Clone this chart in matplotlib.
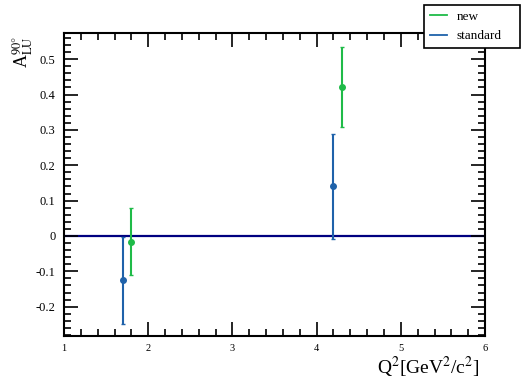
import matplotlib
matplotlib.use("Agg")
import matplotlib.pyplot as plt
from matplotlib.ticker import MultipleLocator, FuncFormatter
from matplotlib.lines import Line2D

# data
q2_standard = [1.70, 4.20]
alu_standard = [-0.125, 0.140]
err_standard = [0.123, 0.148]

q2_new = [1.79, 4.30]
alu_new = [-0.016, 0.422]
err_new = [0.095, 0.113]

labels = ["new", "standard"]

plt.rcParams['font.family'] = ['Liberation Serif', 'DejaVu Serif']
plt.rcParams['mathtext.fontset'] = 'stix'

fig = plt.figure(figsize=(5.21, 3.81), dpi=100)
ax = fig.add_axes([0.1228, 0.1181, 0.8082, 0.7953])

ax.axhline(0, color='#000080', lw=1.6, zorder=1)

green = '#1fbb48'
blue = '#1f62aa'
ax.errorbar(q2_new, alu_new, yerr=err_new, fmt='o', color=green, ms=4,
            elinewidth=1.5, capsize=1.5, capthick=1, zorder=3)
ax.errorbar(q2_standard, alu_standard, yerr=err_standard, fmt='o', color=blue, ms=4,
            elinewidth=1.5, capsize=1.5, capthick=1, zorder=3)

ax.set_xlim(1, 6)
ax.set_ylim(-0.283, 0.574)

ax.xaxis.set_major_locator(MultipleLocator(1))
ax.xaxis.set_minor_locator(MultipleLocator(0.2))
ax.yaxis.set_major_locator(MultipleLocator(0.1))
ax.yaxis.set_minor_locator(MultipleLocator(0.02))
ax.yaxis.set_major_formatter(FuncFormatter(lambda v, p: "0" if abs(v) < 1e-9 else f"{v:.1f}"))

ax.tick_params(which='both', direction='in', top=True, right=True, width=1.2)
ax.tick_params(which='major', length=10)
ax.tick_params(which='minor', length=5)
ax.tick_params(axis='y', labelsize=9, pad=6)
ax.tick_params(axis='x', labelsize=7.5, pad=6)
for s in ax.spines.values():
    s.set_linewidth(1.5)

ax.set_xlabel(r"Q$^2$[GeV$^2$/c$^2$]", fontsize=14, loc='right')
ax.xaxis.set_label_coords(0.986, -0.062)
ax.xaxis.label.set_va('top')
ax.set_ylabel(r"A$_{\rm LU}^{90°}$", fontsize=13, loc='top')
ax.yaxis.set_label_coords(-0.068, 0.99)

handles = [Line2D([], [], color=green, lw=1.3), Line2D([], [], color=blue, lw=1.3)]
leg = fig.legend(handles, labels, loc='upper left',
                 bbox_to_anchor=(0.814, 0.882, 0.184, 0.105), mode='expand',
                 fontsize=9.5, frameon=True, fancybox=False, edgecolor='black',
                 framealpha=1, handlelength=1.3, borderpad=0.42, labelspacing=0.55,
                 handletextpad=0.75, borderaxespad=0)
leg.get_frame().set_linewidth(1.2)

fig.savefig("out.png", dpi=100)
